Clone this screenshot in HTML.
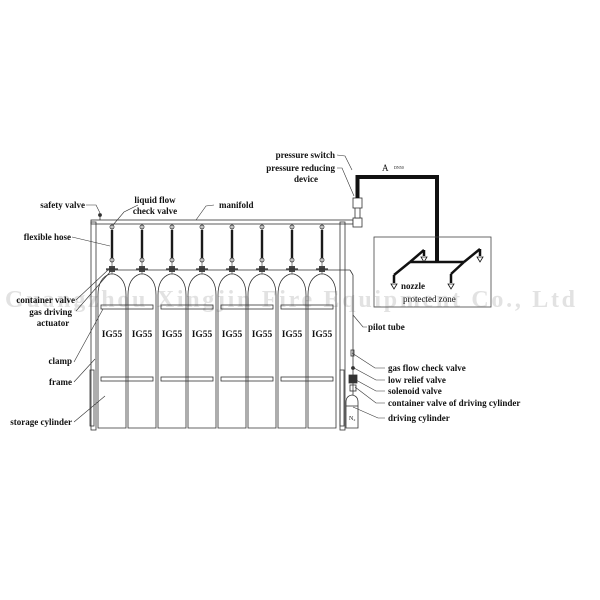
<!DOCTYPE html>
<html><head><meta charset="utf-8"><style>
html,body{margin:0;padding:0;background:#fff}
svg{display:block}
text{font-family:"Liberation Serif",serif;font-weight:bold;fill:#111}
</style></head><body>
<svg width="600" height="600" viewBox="0 0 600 600" xmlns="http://www.w3.org/2000/svg">
<rect width="600" height="600" fill="#fff"/>
<text x="290" y="307" font-size="24" text-anchor="middle" style="fill:#e2e2e2" textLength="570">Guangzhou Xingjin Fire Equipment Co., Ltd</text>

<g stroke="#333" stroke-width="0.8" fill="none">
<rect x="91" y="222" width="5" height="208"/>
<rect x="340" y="222" width="5" height="208"/>
<rect x="90" y="370" width="4" height="56"/>
<rect x="340" y="370" width="4" height="56"/>
<rect x="91" y="220" width="262" height="4"/>
<line x1="100" y1="220" x2="100" y2="216"/>
<circle cx="100" cy="215" r="1.5" fill="#333"/>
<line x1="106" y1="270" x2="350" y2="270"/>
<line x1="350" y1="270" x2="353" y2="275"/>
<line x1="353" y1="275" x2="353" y2="395"/>
<rect x="101" y="305" width="52" height="4"/>
<rect x="161" y="305" width="52" height="4"/>
<rect x="221" y="305" width="52" height="4"/>
<rect x="281" y="305" width="52" height="4"/>
<rect x="101" y="377" width="52" height="4"/>
<rect x="161" y="377" width="52" height="4"/>
<rect x="221" y="377" width="52" height="4"/>
<rect x="281" y="377" width="52" height="4"/>
</g>

<g stroke="#333" stroke-width="0.8" fill="none">
<path id="cyl" d="M98,428 L98,295 Q98,278 110,274 L114,274 Q126,278 126,295 L126,428 Z"/>
</g>
<g stroke="#333" stroke-width="0.8" fill="none">
<use href="#cyl" x="30"/><use href="#cyl" x="60"/><use href="#cyl" x="90"/>
<use href="#cyl" x="120"/><use href="#cyl" x="150"/><use href="#cyl" x="180"/><use href="#cyl" x="210"/>
</g>
<g id="hv">
<rect x="110.8" y="230" width="2.4" height="28" fill="#111"/>
<circle cx="112" cy="227" r="2" fill="none" stroke="#333" stroke-width="0.8"/>
<circle cx="112" cy="260" r="2" fill="none" stroke="#333" stroke-width="0.8"/>
<line x1="112" y1="224" x2="112" y2="274" stroke="#333" stroke-width="0.6"/>
<rect x="109" y="266" width="6" height="6" fill="#444"/>
<line x1="106" y1="269" x2="118" y2="269" stroke="#333" stroke-width="1.2"/>
</g>
<use href="#hv" x="30"/><use href="#hv" x="60"/><use href="#hv" x="90"/>
<use href="#hv" x="120"/><use href="#hv" x="150"/><use href="#hv" x="180"/><use href="#hv" x="210"/>

<g font-size="9.5" text-anchor="middle">
<text x="112" y="337">IG55</text><text x="142" y="337">IG55</text><text x="172" y="337">IG55</text><text x="202" y="337">IG55</text>
<text x="232" y="337">IG55</text><text x="262" y="337">IG55</text><text x="292" y="337">IG55</text><text x="322" y="337">IG55</text>
</g>

<g stroke="#333" stroke-width="0.8" fill="none">
<path d="M346,428 L346,402 Q346,396 352,395 Q358,396 358,402 L358,428 Z"/>
<line x1="346" y1="406" x2="358" y2="406"/>
<rect x="351" y="350" width="3" height="6"/>
<circle cx="353" cy="368" r="1.5" fill="#333"/>
<rect x="349" y="375" width="8" height="8" fill="#333"/>
<rect x="350" y="385" width="6" height="6"/>
</g>
<text x="349" y="420" font-size="6" style="font-weight:normal">N₂</text>

<g stroke="#333" stroke-width="0.8" fill="#fff">
<rect x="353" y="218" width="9" height="9"/>
<rect x="355" y="207" width="5" height="11"/>
<rect x="353" y="198" width="9" height="10"/>
</g>
<path d="M357.5,198 L357.5,177 L437,177 L437,262" stroke="#111" stroke-width="4" fill="none"/>
<rect x="374" y="237" width="117" height="70" fill="none" stroke="#444" stroke-width="0.8"/>
<g stroke="#111" stroke-width="2.5" fill="none">
<line x1="410" y1="262" x2="464" y2="262"/>
<line x1="410" y1="262" x2="394" y2="275"/>
<line x1="394" y1="275" x2="394" y2="283"/>
<line x1="410" y1="262" x2="424" y2="250"/>
<line x1="424" y1="250" x2="424" y2="256"/>
<line x1="464" y1="262" x2="451" y2="274"/>
<line x1="451" y1="274" x2="451" y2="283"/>
<line x1="464" y1="262" x2="480" y2="249"/>
<line x1="480" y1="249" x2="480" y2="256"/>
</g>
<g fill="#fff" stroke="#111" stroke-width="0.8">
<path d="M391,284 L397,284 L394,289 Z"/><path d="M448,284 L454,284 L451,289 Z"/>
<path d="M421,257 L427,257 L424,262 Z"/><path d="M477,257 L483,257 L480,262 Z"/>
</g>

<g stroke="#333" stroke-width="0.6" fill="none">
<path d="M86,205 L96,205 L100,213"/>
<path d="M138,205 L124,212 L113,225"/>
<path d="M214,205 L206,206 L196,220"/>
<path d="M72,237 L110,246"/>
<path d="M76,300 L108,270"/>
<path d="M76,311 L110,272"/>
<path d="M74,362 L103,309"/>
<path d="M74,382 L95,359"/>
<path d="M74,422 L105,396"/>
<path d="M337,155 L345,156 L352,170"/>
<path d="M337,168 L342,168 L354,196"/>
<path d="M367,327 L363,327 L353,315"/>
<path d="M385,368 L375,368 L352,353"/>
<path d="M385,380 L376,380 L354,368"/>
<path d="M385,391 L376,391 L356,380"/>
<path d="M385,403 L376,403 L355,387"/>
<path d="M385,418 L378,418 L353,407"/>
</g>

<g font-size="9">
<text x="85" y="208" text-anchor="end">safety valve</text>
<text x="155" y="203" text-anchor="middle">liquid flow</text>
<text x="155" y="214" text-anchor="middle">check valve</text>
<text x="219" y="208">manifold</text>
<text x="71" y="240" text-anchor="end">flexible hose</text>
<text x="75" y="303" text-anchor="end">container valve</text>
<text x="72" y="315" text-anchor="end">gas driving</text>
<text x="53" y="326" text-anchor="middle">actuator</text>
<text x="72" y="364" text-anchor="end">clamp</text>
<text x="72" y="385" text-anchor="end">frame</text>
<text x="72" y="425" text-anchor="end">storage cylinder</text>
<text x="335" y="158" text-anchor="end">pressure switch</text>
<text x="335" y="171" text-anchor="end">pressure reducing</text>
<text x="306" y="182" text-anchor="middle">device</text>
<text x="368" y="330">pilot tube</text>
<text x="388" y="371">gas flow check valve</text>
<text x="388" y="383">low relief valve</text>
<text x="388" y="394">solenoid valve</text>
<text x="388" y="406">container valve of driving cylinder</text>
<text x="388" y="421">driving cylinder</text>
<text x="401" y="289">nozzle</text>
<text x="403" y="302" style="font-weight:normal">protected zone</text>
</g>
<text x="382" y="171" font-size="9" style="font-weight:normal">A</text>
<text x="394" y="169" font-size="4" style="font-weight:normal">DN50</text>
</svg>
</body></html>
